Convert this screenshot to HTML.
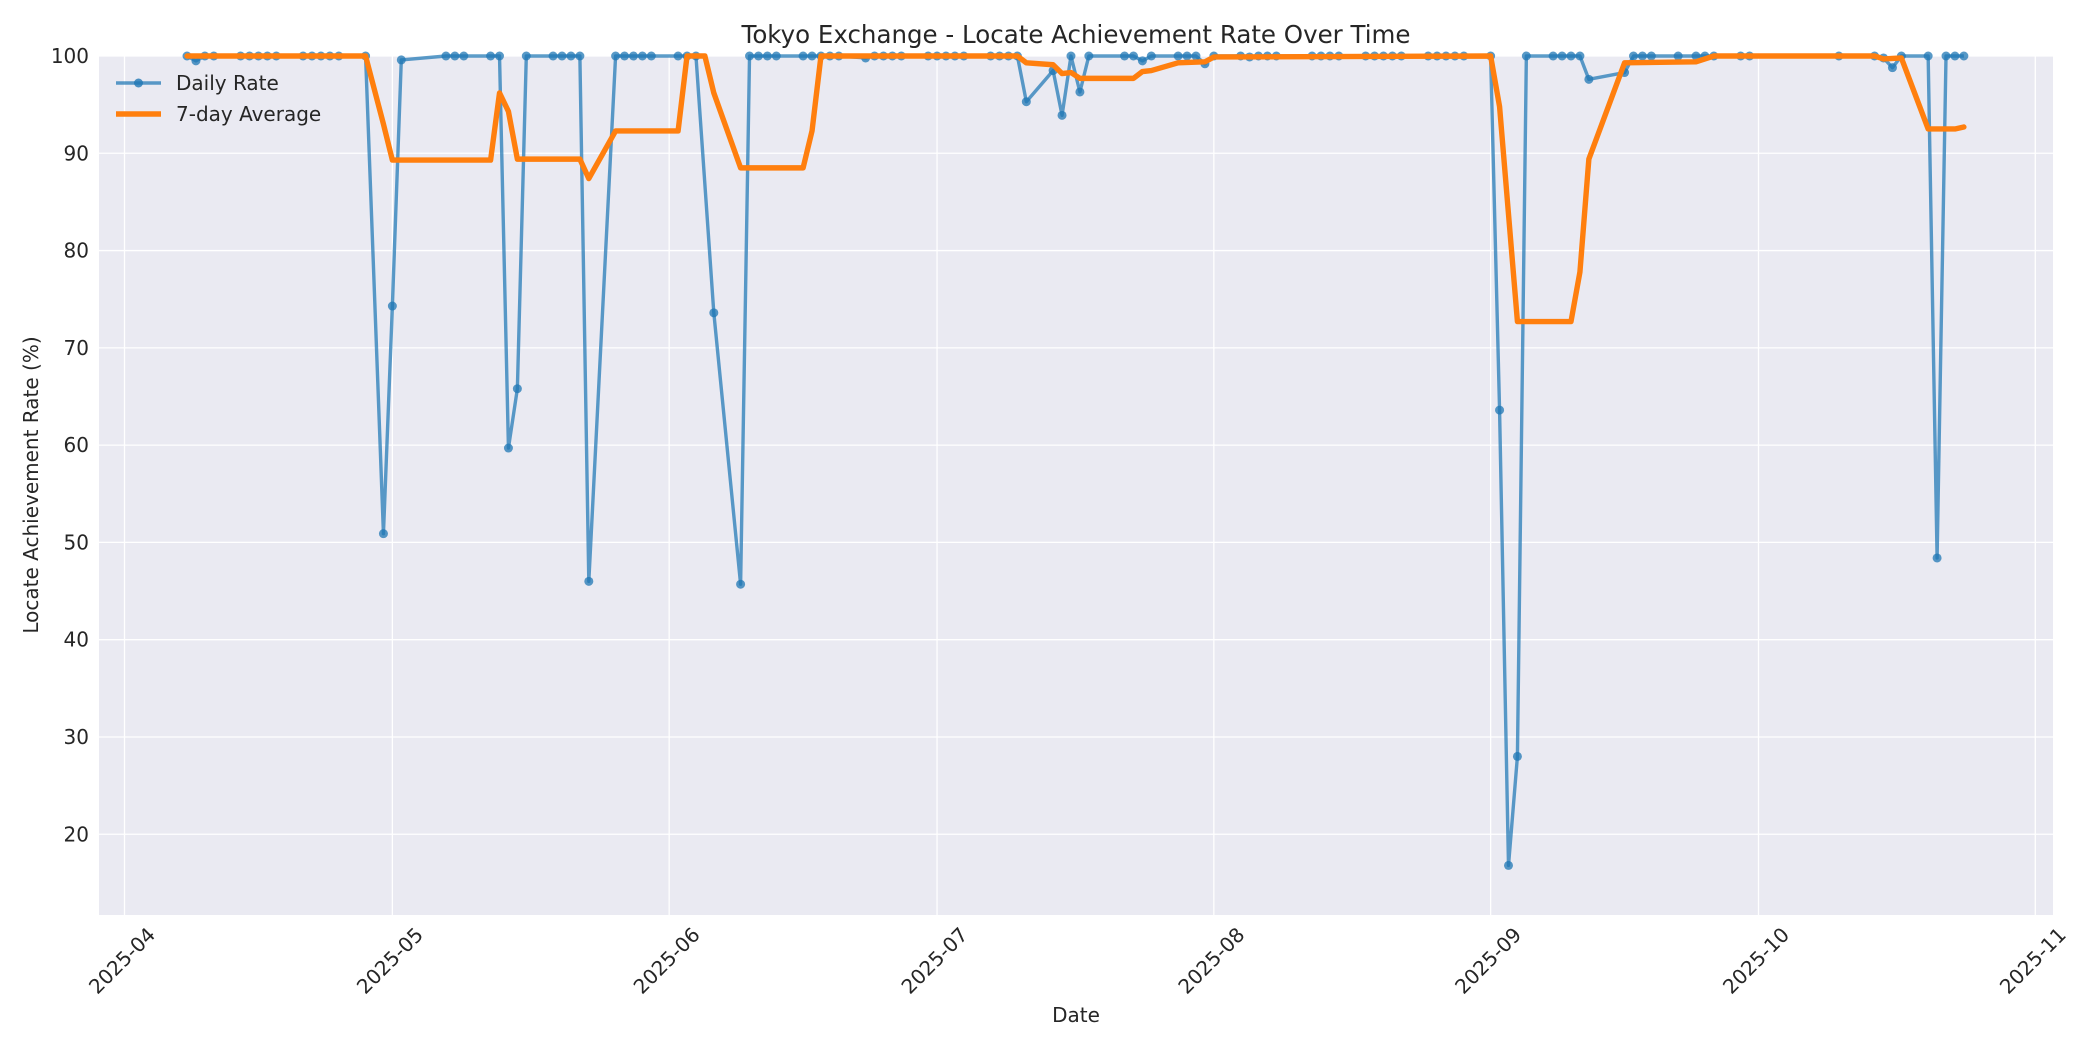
<!DOCTYPE html>
<html><head><meta charset="utf-8">
<style>
body{margin:0;background:#fff;}
svg{display:block;font-family:"DejaVu Sans","Liberation Sans",sans-serif;}
</style></head>
<body>
<svg id="chart" width="2100" height="1050" xmlns="http://www.w3.org/2000/svg">
<rect x="0" y="0" width="2100" height="1050" fill="#ffffff"/>
<rect x="99" y="56" width="1954" height="859" fill="#eaeaf2"/>
<g id="grid"></g>
<g id="axes"></g>
<g id="series"></g>
<text x="1076" y="43" font-size="24.5" text-anchor="middle" fill="#262626">Tokyo Exchange - Locate Achievement Rate Over Time</text>
<text x="1076" y="1022" font-size="20" text-anchor="middle" fill="#262626">Date</text>
<text x="38" y="485" font-size="20" text-anchor="middle" fill="#262626" transform="rotate(-90 38 485)">Locate Achievement Rate (%)</text>
<g>
  <g>
    <line x1="116" y1="83" x2="161" y2="83" stroke="#1f77b4" stroke-opacity="0.72" stroke-width="3.4"/>
    <circle cx="138.5" cy="83" r="4.5" fill="#1f77b4" fill-opacity="0.8"/>
    <text x="176" y="90" font-size="20" fill="#262626">Daily Rate</text>
  </g>
  <g>
    <line x1="116" y1="114" x2="161" y2="114" stroke="#ff7f0e" stroke-width="5.4"/>
    <text x="176" y="121" font-size="20" fill="#262626">7-day Average</text>
  </g>
</g>
</svg>
<script>
const dailyDates = ["04-08","04-09","04-10","04-11","04-14","04-15","04-16","04-17","04-18","04-21","04-22","04-23","04-24","04-25","04-28","04-30","05-01","05-02","05-07","05-08","05-09","05-12","05-13","05-14","05-15","05-16","05-19","05-20","05-21","05-22","05-23","05-26","05-27","05-28","05-29","05-30","06-02","06-03","06-04","06-06","06-09","06-10","06-11","06-12","06-13","06-16","06-17","06-18","06-19","06-20","06-23","06-24","06-25","06-26","06-27","06-30","07-01","07-02","07-03","07-04","07-07","07-08","07-09","07-10","07-11","07-14","07-15","07-16","07-17","07-18","07-22","07-23","07-24","07-25","07-28","07-29","07-30","07-31","08-01","08-04","08-05","08-06","08-07","08-08","08-12","08-13","08-14","08-15","08-18","08-19","08-20","08-21","08-22","08-25","08-26","08-27","08-28","08-29","09-01","09-02","09-03","09-04","09-05","09-08","09-09","09-10","09-11","09-12","09-16","09-17","09-18","09-19","09-22","09-24","09-25","09-26","09-29","09-30","10-10","10-14","10-15","10-16","10-17","10-20","10-21","10-22","10-23","10-24"];
const dailyValues = [100,99.5,100,100,100,100,100,100,100,100,100,100,100,100,100,50.9,74.3,99.6,100,100,100,100,100,59.7,65.8,100,100,100,100,100,46,100,100,100,100,100,100,100,100,73.6,45.7,100,100,100,100,100,100,100,100,100,99.8,100,100,100,100,100,100,100,100,100,100,100,100,100,95.3,98.5,93.9,100,96.3,100,100,100,99.5,100,100,100,100,99.2,100,100,99.9,100,100,100,100,100,100,100,100,100,100,100,100,100,100,100,100,100,100,63.6,16.8,28,100,100,100,100,100,97.6,98.3,100,100,100,100,100,100,100,100,100,100,100,99.8,98.8,100,100,48.4,100,100,100,100];
const avgDates = ["04-08","04-28","04-30","05-01","05-12","05-13","05-14","05-15","05-22","05-23","05-26","06-02","06-03","06-05","06-06","06-09","06-16","06-17","06-18","07-10","07-11","07-14","07-15","07-16","07-17","07-23","07-24","07-25","07-28","07-31","08-01","09-01","09-02","09-04","09-10","09-11","09-12","09-16","09-24","09-26","10-14","10-15","10-17","10-20","10-23","10-24"];
const avgValues = [100,100,93,89.3,89.3,96.2,94.3,89.4,89.4,87.4,92.3,92.3,100,100,96.2,88.5,88.5,92.3,100,100,99.3,99.1,98.2,98.3,97.7,97.7,98.4,98.5,99.3,99.4,99.9,100,94.8,72.7,72.7,77.8,89.4,99.3,99.4,100,100,99.7,99.8,92.5,92.5,92.7];
const xTickLabels = ["2025-04","2025-05","2025-06","2025-07","2025-08","2025-09","2025-10","2025-11"];
const yTickValues = [20,30,40,50,60,70,80,90,100];

const NS = "http://www.w3.org/2000/svg";
const L = 99, R = 2053, T = 56, B = 915;
const DAY = 86400000;
const t0 = Date.UTC(2025,3,1);
const pxPerDay = 8.929, x0 = 124.5;
const yMin = 11.7, yMax = 100;
function xDate(s){ const p = s.split("-"); const m = +p[1]-1, d = p.length>2 ? +p[2] : 1; return x0 + (Date.UTC(2025,m,d)-t0)/DAY*pxPerDay; }
function xMD(s){ return xDate("2025-"+s); }
function y(v){ return B - (v - yMin)/(yMax - yMin)*(B - T); }
function mk(tag, attrs, parent){ const e = document.createElementNS(NS, tag); for (const k in attrs) e.setAttribute(k, attrs[k]); parent.appendChild(e); return e; }

const grid = document.getElementById("grid"), axes = document.getElementById("axes"), series = document.getElementById("series");
yTickValues.forEach(v => {
  const g = mk("line", {x1:L, x2:R, y1:y(v), y2:y(v), stroke:"#ffffff", "stroke-width":1.3}, grid);
  
  
  const t = mk("text", {x:L-10, y:y(v)+7, "font-size":20, "text-anchor":"end", fill:"#262626"}, axes);
  
  
  t.textContent = v;
});
xTickLabels.forEach(s => {
  const x = xDate(s);
  const g = mk("line", {x1:x, x2:x, y1:T, y2:B, stroke:"#ffffff", "stroke-width":1.3}, grid);
  
  
  const ax = x + 32, ay = 936;
  const t = mk("text", {x:ax, y:ay, "font-size":20, "text-anchor":"end", fill:"#262626", transform:`rotate(-45 ${ax} ${ay})`}, axes);
  
  
  t.textContent = s;
});

const clip = mk("clipPath", {id:"pc"}, document.getElementById("chart"));
mk("rect", {x:L, y:T-4, width:R-L, height:B-T+4}, clip);

const dPts = dailyDates.map((d,i) => [xMD(d), y(dailyValues[i])]);
const dl = mk("polyline", {points:dPts.map(p=>p.join(",")).join(" "), fill:"none", stroke:"#1f77b4", "stroke-opacity":0.72, "stroke-width":3.4, "stroke-linejoin":"round"}, series);


dPts.forEach(p => {
  const c = mk("circle", {cx:p[0], cy:p[1], r:4.5, fill:"#1f77b4", "fill-opacity":0.75}, series);
  
  
});
const aPts = avgDates.map((d,i) => [xMD(d), y(avgValues[i])]);
const al = mk("polyline", {points:aPts.map(p=>p.join(",")).join(" "), fill:"none", stroke:"#ff7f0e", "stroke-width":5.4, "stroke-linejoin":"round", "stroke-linecap":"round", "clip-path":"url(#pc)"}, series);


</script>
</body></html>
